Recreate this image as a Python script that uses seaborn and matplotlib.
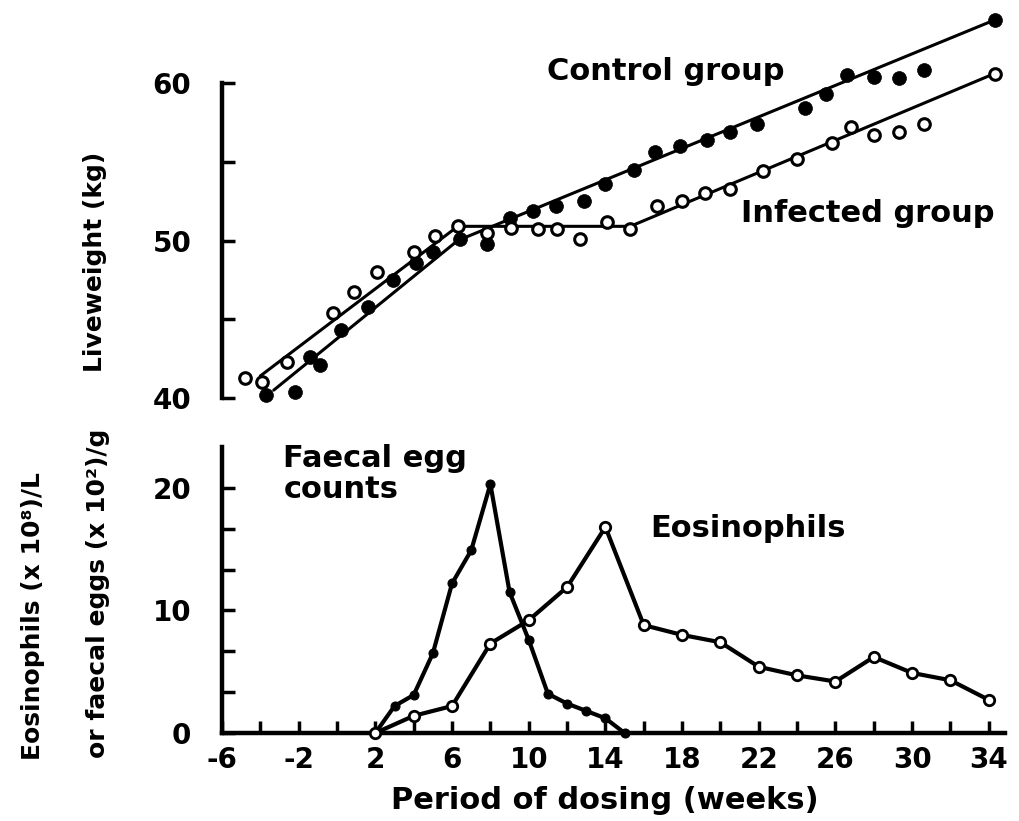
import matplotlib
matplotlib.use("Agg")
import matplotlib.pyplot as plt
import seaborn as sns
import pandas as pd
from matplotlib.ticker import FixedLocator, FixedFormatter

# ---------------- data ----------------
# Top panel: liveweight (kg)
ctrl_weeks = [-3.7, -2.2, -1.4, -0.9, 0.2, 1.6, 2.9, 4.1, 5.0, 6.4, 7.8, 9.0, 10.2,
              11.4, 12.9, 14.0, 15.5, 16.6, 17.9, 19.3, 20.5, 21.9, 24.4, 25.5,
              26.6, 28.0, 29.3, 30.6, 34.3]
ctrl_weight = [40.2, 40.4, 42.6, 42.1, 44.3, 45.8, 47.5, 48.6, 49.3, 50.1, 49.8, 51.4,
               51.9, 52.2, 52.5, 53.6, 54.5, 55.6, 56.0, 56.4, 56.9, 57.4, 58.4, 59.3,
               60.5, 60.4, 60.3, 60.8, 64.0]
inf_weeks = [-4.8, -3.9, -2.6, -0.2, 0.9, 2.1, 4.0, 5.1, 6.3, 7.8, 9.1, 10.5, 11.5,
             12.7, 14.1, 15.3, 16.7, 18.0, 19.2, 20.5, 22.2, 24.0, 25.8, 26.8, 28.0,
             29.3, 30.6, 34.3]
inf_weight = [41.3, 41.0, 42.3, 45.4, 46.7, 48.0, 49.3, 50.3, 50.9, 50.5, 50.8, 50.7,
              50.7, 50.1, 51.2, 50.7, 52.2, 52.5, 53.0, 53.3, 54.4, 55.2, 56.2, 57.2,
              56.7, 56.9, 57.4, 60.6]
# fitted (broken-stick) lines
ctrl_fit_x = [-3.3, 6.3, 34.3]
ctrl_fit_y = [40.5, 50.0, 64.0]
inf_fit_x = [-4.0, 6.3, 15.3, 34.3]
inf_fit_y = [41.4, 50.9, 50.9, 60.6]

# Bottom panel
faecal_weeks = [2, 3, 4, 5, 6, 7, 8, 9, 10, 11, 12, 13, 14, 15]
faecal_counts = [0, 2.2, 3.1, 6.5, 12.2, 14.9, 20.3, 11.5, 7.6, 3.2, 2.4, 1.8, 1.2, 0]
eos_weeks = [2, 4, 6, 8, 10, 12, 14, 16, 18, 20, 22, 24, 26, 28, 30, 32, 34]
eos_counts = [0, 1.4, 2.2, 7.3, 9.2, 11.9, 16.8, 8.8, 8.0, 7.4, 5.4, 4.7, 4.2, 6.2,
              4.9, 4.3, 2.7]

x_tick_labels = ["-6", "-2", "2", "6", "10", "14", "18", "22", "26", "30", "34"]
top_y_labels = ["40", "", "50", "", "60"]
bot_y_labels = ["0", "10", "20"]

# ---------------- style ----------------
sns.set_style("ticks")
plt.rcParams['font.family'] = ['DejaVu Sans']
plt.rcParams['font.weight'] = 'bold'
for k in ['text.color', 'axes.labelcolor', 'xtick.color', 'ytick.color',
          'axes.edgecolor']:
    plt.rcParams[k] = 'black'

W, H = 1019, 821
fig = plt.figure(figsize=(W / 100, H / 100), dpi=100)
XMIN, XMAX = -6, 35.45
left = 222 / W
width = (1016.6 - 222) / W
ax1 = fig.add_axes([left, 1 - 398 / H, width, 398 / H])
ax2 = fig.add_axes([left, 1 - 733 / H, width, (733 - 447) / H])

# ---------------- top panel ----------------
sns.lineplot(x=ctrl_fit_x, y=ctrl_fit_y, ax=ax1, color='black', lw=2.2,
             estimator=None, sort=False)
sns.lineplot(x=inf_fit_x, y=inf_fit_y, ax=ax1, color='black', lw=2.2,
             estimator=None, sort=False)
sns.scatterplot(x=ctrl_weeks, y=ctrl_weight, ax=ax1, color='black',
                edgecolor='black', s=100, linewidth=0.5, zorder=3, clip_on=False)
sns.scatterplot(x=inf_weeks, y=inf_weight, ax=ax1, color='white',
                edgecolor='black', s=70, linewidth=2.2, zorder=3, clip_on=False)

ax1.set_xlim(XMIN, XMAX)
ax1.set_ylim(40, 65.27)
for s in ['top', 'right', 'bottom']:
    ax1.spines[s].set_visible(False)
ax1.spines['left'].set_bounds(40, 60)
ax1.spines['left'].set_linewidth(3.2)
ax1.set_xticks([])
ax1.yaxis.set_major_locator(FixedLocator([40, 45, 50, 55, 60]))
ax1.yaxis.set_major_formatter(FixedFormatter(top_y_labels))
ax1.tick_params(axis='y', left=True, direction='in', length=9, width=2.5, pad=22,
                labelsize=20, colors='black')
ax1.set_xlabel('')
ax1.set_ylabel('')

ax1.text(17.16, 60.19, 'Control group', ha='center', va='baseline',
         fontsize=22, fontweight='bold', color='black')
ax1.text(27.7, 51.17, 'Infected group', ha='center', va='baseline',
         fontsize=22, fontweight='bold', color='black')

# ---------------- bottom panel ----------------
sns.lineplot(x=faecal_weeks, y=faecal_counts, ax=ax2, color='black', lw=3,
             marker='o', markersize=6.5, markerfacecolor='black',
             markeredgecolor='black', estimator=None, clip_on=False, zorder=3)
sns.lineplot(x=eos_weeks, y=eos_counts, ax=ax2, color='black', lw=3,
             marker='o', markersize=7.5, markerfacecolor='white',
             markeredgecolor='black', markeredgewidth=2, estimator=None,
             clip_on=False, zorder=3)

ax2.set_xlim(XMIN, XMAX)
ax2.set_ylim(0, 23.33)
for s in ['top', 'right']:
    ax2.spines[s].set_visible(False)
ax2.spines['left'].set_bounds(0, 23.33)
ax2.spines['bottom'].set_bounds(-6, 34.85)
ax2.spines['left'].set_linewidth(3.2)
ax2.spines['bottom'].set_linewidth(3.2)

ax2.xaxis.set_major_locator(FixedLocator(list(range(-6, 35, 4))))
ax2.xaxis.set_major_formatter(FixedFormatter(x_tick_labels))
ax2.xaxis.set_minor_locator(FixedLocator(list(range(-4, 33, 4))))
ax2.yaxis.set_major_locator(FixedLocator([0, 10, 20]))
ax2.yaxis.set_major_formatter(FixedFormatter(bot_y_labels))
ax2.yaxis.set_minor_locator(FixedLocator([10 / 3, 20 / 3, 40 / 3, 50 / 3, 70 / 3]))
ax2.tick_params(axis='both', which='both', direction='in', length=9, width=2.5,
                left=True, bottom=True, colors='black')
ax2.tick_params(axis='x', which='major', pad=9, labelsize=20)
ax2.tick_params(axis='y', which='major', pad=22, labelsize=20)
ax2.set_xlabel('')
ax2.set_ylabel('')

ax2.text(-2.8, 21.7, 'Faecal egg', ha='left', va='baseline', fontsize=22,
         fontweight='bold', color='black')
ax2.text(-2.8, 19.2, 'counts', ha='left', va='baseline', fontsize=22,
         fontweight='bold', color='black')
ax2.text(21.44, 16.0, 'Eosinophils', ha='center', va='baseline', fontsize=22,
         fontweight='bold', color='black')

for ax in (ax1, ax2):
    for lab in ax.get_xticklabels() + ax.get_yticklabels():
        lab.set_fontweight('bold')
        lab.set_color('black')

# ---------------- axis titles ----------------
fig.text(95 / W, 1 - 262 / H, 'Liveweight (kg)', rotation=90, ha='center',
         va='center', fontsize=18, fontweight='bold', color='black')
fig.text(33 / W, 1 - 760 / H, 'Eosinophils (x 10\u2078)/L', rotation=90,
         ha='center', va='bottom', fontsize=18, fontweight='bold', color='black')
fig.text(98 / W, 1 - 758 / H, 'or faecal eggs (x 10\u00b2)/g', rotation=90,
         ha='center', va='bottom', fontsize=18, fontweight='bold', color='black')
fig.text(605 / W, 1 - 800 / H, 'Period of dosing (weeks)', ha='center',
         va='center', fontsize=22, fontweight='bold', color='black')

fig.savefig('out.png', dpi=100, facecolor='white')
